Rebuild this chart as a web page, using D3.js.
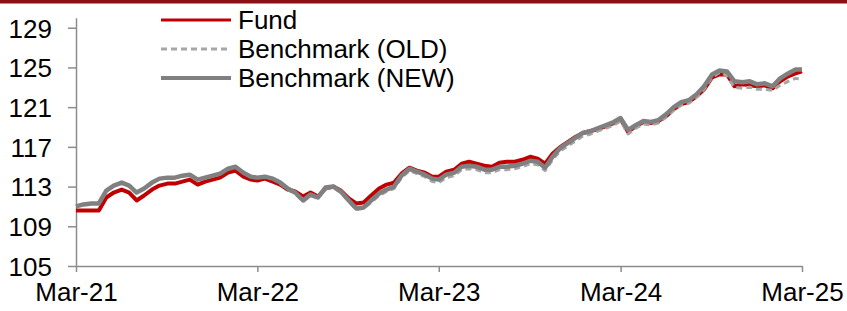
<!DOCTYPE html>
<html>
<head>
<meta charset="utf-8">
<script src="https://cdn.jsdelivr.net/npm/d3@7"></script>
<style>
  body { margin: 0; background: #fff; }
  svg { display: block; }
  .axis text { font-family: "Liberation Sans", Arial, sans-serif; font-size: 26px; fill: #000; }
  .axis path, .axis line { stroke: #8c8c8c; stroke-width: 1.5px; }
  .legend text { font-family: "Liberation Sans", Arial, sans-serif; font-size: 26px; fill: #000; }
</style>
</head>
<body>
<script>
// tick labels
var yTicks = [105, 109, 113, 117, 121, 125, 129];
var xTickLabels = ["Mar-21", "Mar-22", "Mar-23", "Mar-24", "Mar-25"];

// series names
var seriesNames = ["Fund", "Benchmark (OLD)", "Benchmark (NEW)"];

// semi-monthly readings, 1st and 16th of each month, Mar-21 .. Mar-25
var fund = [
  110.6, 110.6, 110.6, 110.6, 111.9, 112.4, 112.7, 112.4, 111.6, 112.1,
  112.7, 113.1, 113.3, 113.3, 113.5, 113.7, 113.2, 113.5, 113.7, 113.9,
  114.4, 114.6, 114.0, 113.7, 113.6, 113.8, 113.5, 113.2, 112.7, 112.5,
  112.0, 112.4, 112.0, 112.8, 113.0, 112.6, 111.8, 111.3, 111.4, 112.1,
  112.8, 113.2, 113.4, 114.3, 114.9, 114.6, 114.4, 114.0, 114.0, 114.5,
  114.7, 115.3, 115.5, 115.3, 115.1, 115.0, 115.4, 115.5, 115.5, 115.7,
  116.0, 115.8, 115.3, 116.3, 117.0, 117.5, 118.0, 118.4, 118.6, 118.8,
  119.1, 119.4, 119.8, 118.5, 119.1, 119.5, 119.4, 119.6, 120.1, 120.8,
  121.3, 121.5, 122.1, 122.8, 124.0, 124.3, 124.3, 123.1, 123.3, 123.2,
  123.1, 123.2, 122.9, 123.6, 124.1, 124.4, 124.6
];
var benchOld = [
  111.0, 111.2, 111.3, 111.3, 112.6, 113.1, 113.4, 113.1, 112.4, 112.8,
  113.4, 113.8, 113.9, 113.9, 114.1, 114.2, 113.7, 113.9, 114.1, 114.3,
  114.8, 115.0, 114.4, 114.0, 113.9, 114.0, 113.8, 113.3, 112.7, 112.3,
  111.5, 112.1, 111.8, 112.8, 112.9, 112.4, 111.5, 110.7, 110.8, 111.4,
  112.1, 112.5, 112.8, 113.9, 114.6, 114.3, 114.0, 113.5, 113.4, 113.9,
  114.1, 114.7, 114.8, 114.7, 114.4, 114.4, 114.7, 114.7, 114.8, 115.0,
  115.3, 115.2, 114.6, 115.7, 116.6, 117.1, 117.6, 118.1, 118.3, 118.6,
  118.9, 119.2, 119.6, 118.3, 118.9, 119.3, 119.2, 119.4, 120.0, 120.7,
  121.2, 121.4, 122.0, 122.8, 124.0, 124.5, 124.2, 123.0, 122.9, 123.0,
  122.8, 122.8, 122.7, 123.2, 123.6, 123.9, 123.8
];
var benchNew = [
  111.0, 111.2, 111.3, 111.3, 112.6, 113.1, 113.4, 113.1, 112.4, 112.8,
  113.4, 113.8, 113.9, 113.9, 114.1, 114.2, 113.7, 113.9, 114.1, 114.3,
  114.8, 115.0, 114.4, 114.0, 113.9, 114.0, 113.8, 113.4, 112.8, 112.4,
  111.6, 112.2, 111.9, 112.9, 113.0, 112.5, 111.6, 110.8, 110.9, 111.6,
  112.3, 112.7, 113.0, 114.1, 114.8, 114.5, 114.2, 113.8, 113.7, 114.2,
  114.4, 115.0, 115.1, 115.0, 114.7, 114.7, 115.0, 115.0, 115.1, 115.3,
  115.6, 115.5, 114.9, 116.0, 116.9, 117.4, 117.9, 118.4, 118.6, 118.9,
  119.2, 119.5, 119.9, 118.7, 119.2, 119.6, 119.5, 119.7, 120.3, 121.0,
  121.5, 121.7, 122.3, 123.1, 124.3, 124.7, 124.6, 123.6, 123.5, 123.6,
  123.3, 123.4, 123.1, 123.9, 124.4, 124.8, 124.8
];

var W = 847, H = 311;
var x0 = 76, x1 = 802, yBottom = 266;

// dates: 1st and 16th of each month
var dates = [];
d3.utcMonth.range(new Date(Date.UTC(2021, 2, 1)), new Date(Date.UTC(2025, 2, 2))).forEach(function(m) {
  dates.push(m);
  if (m < new Date(Date.UTC(2025, 2, 1))) dates.push(d3.utcDay.offset(m, 15));
});

var xTickDates = xTickLabels.map(function(d, i) { return new Date(Date.UTC(2021 + i, 2, 1)); });

var x = d3.scaleUtc()
    .domain([xTickDates[0], xTickDates[xTickDates.length - 1]])
    .range([x0, x1]);
var y = d3.scaleLinear().domain([105, 130]).range([yBottom, 17.8]);

var svg = d3.select("body").append("svg")
    .attr("width", W)
    .attr("height", H);

// top band
svg.append("rect")
    .attr("x", 0).attr("y", 0)
    .attr("width", W).attr("height", 3.5)
    .attr("fill", "#8b1115");

// y axis
var yAxis = svg.append("g")
    .attr("class", "axis")
    .attr("transform", "translate(" + x0 + ",0)")
    .call(d3.axisLeft(y).tickValues(yTicks).tickSize(8).tickSizeOuter(0).tickPadding(16).tickFormat(d3.format("d")));
yAxis.selectAll("text").attr("dy", "0.36em");

// x axis
var xAxis = svg.append("g")
    .attr("class", "axis")
    .attr("transform", "translate(0," + yBottom + ")")
    .call(d3.axisBottom(x).tickValues(xTickDates).tickSize(6).tickSizeOuter(0).tickPadding(11)
      .tickFormat(function(d, i) { return xTickLabels[i]; }));
xAxis.selectAll("text").attr("dy", "0.71em");

var line = d3.line()
    .x(function(d, i) { return x(dates[i]); })
    .y(function(d) { return y(d); });

var styles = [
  {data: fund, color: "#c00000", width: 4, dash: null},
  {data: benchOld, color: "#a6a6a6", width: 3, dash: "6,4"},
  {data: benchNew, color: "#808080", width: 4.5, dash: null}
];

styles.forEach(function(s) {
  svg.append("path")
      .datum(s.data)
      .attr("fill", "none")
      .attr("stroke", s.color)
      .attr("stroke-width", s.width)
      .attr("stroke-dasharray", s.dash)
      .attr("stroke-linejoin", "round")
      .attr("d", line);
});

// legend
var legend = svg.append("g").attr("class", "legend");
seriesNames.forEach(function(name, i) {
  var ly = 20 + i * 29;
  legend.append("line")
      .attr("x1", 161).attr("x2", 231)
      .attr("y1", ly).attr("y2", ly)
      .attr("stroke", styles[i].color)
      .attr("stroke-width", i === 2 ? 4 : 3)
      .attr("stroke-dasharray", styles[i].dash);
  legend.append("text")
      .attr("x", 238).attr("y", ly)
      .attr("dy", "0.36em")
      .text(name);
});
</script>
</body>
</html>
